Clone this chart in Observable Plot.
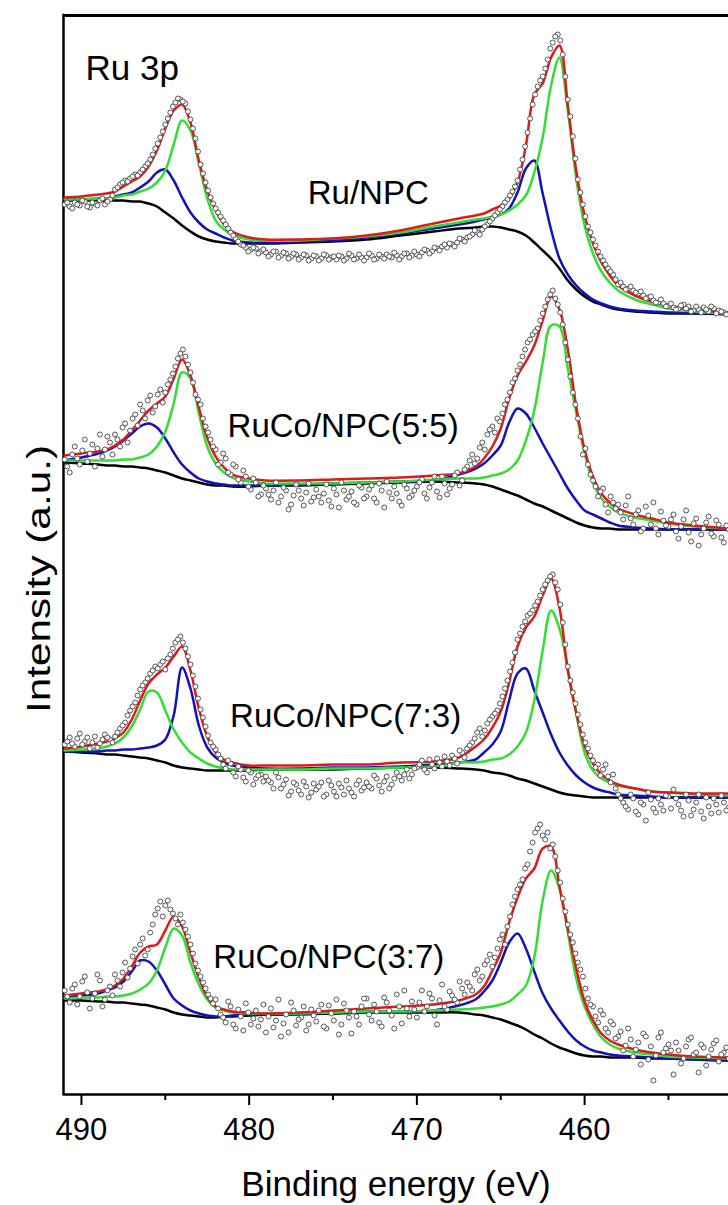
<!DOCTYPE html>
<html>
<head>
<meta charset="utf-8">
<script src="https://cdn.jsdelivr.net/npm/d3@7"></script>
<script src="https://cdn.jsdelivr.net/npm/@observablehq/plot@0.6"></script>
<style>
  html, body { margin: 0; padding: 0; background: #fff; }
  #chart svg { display: block; }
</style>
</head>
<body>
<div id="chart"></div>
<script>
// ---------- data ----------
const samples = ["Ru/NPC", "RuCo/NPC(5:5)", "RuCo/NPC(7:3)", "RuCo/NPC(3:7)"];

// binding energies (eV) at which the fitted curves were read
const fitEnergy = [491.0, 490.0, 489.0, 488.5, 488.0, 487.5, 487.0, 486.5, 486.0, 485.5,
  485.0, 484.5, 484.0, 483.5, 483.0, 482.5, 482.0, 481.5, 481.0, 480.0,
  479.0, 477.0, 475.0, 473.0, 471.0, 469.0, 467.5, 466.5, 466.0, 465.5,
  465.0, 464.5, 464.0, 463.5, 463.0, 462.5, 462.0, 461.5, 461.0, 460.5,
  460.0, 459.5, 459.0, 458.5, 458.0, 457.0, 456.0, 455.0, 453.5, 451.4];

// binding energies (eV) of the measured points (two interleaved sweeps)
const scanEnergy = [491.0, 490.7, 490.4, 490.1, 489.8, 489.5, 489.2, 488.9, 488.6, 488.3,
  488.0, 487.7, 487.4, 487.1, 486.8, 486.5, 486.2, 485.9, 485.6, 485.3,
  485.0, 484.7, 484.4, 484.1, 483.8, 483.5, 483.2, 482.9, 482.6, 482.3,
  482.0, 481.7, 481.4, 481.1, 480.8, 480.5, 480.2, 479.9, 479.6, 479.3,
  479.0, 478.7, 478.4, 478.1, 477.8, 477.5, 477.2, 476.9, 476.6, 476.3,
  476.0, 475.7, 475.4, 475.1, 474.8, 474.5, 474.2, 473.9, 473.6, 473.3,
  473.0, 472.7, 472.4, 472.1, 471.8, 471.5, 471.2, 470.9, 470.6, 470.3,
  470.0, 469.7, 469.4, 469.1, 468.8, 468.5, 468.2, 467.9, 467.6, 467.3,
  467.0, 466.7, 466.4, 466.1, 465.8, 465.5, 465.2, 464.9, 464.6, 464.3,
  464.0, 463.7, 463.4, 463.1, 462.8, 462.5, 462.2, 461.9, 461.6, 461.3,
  461.0, 460.7, 460.4, 460.1, 459.8, 459.5, 459.2, 458.9, 458.6, 458.3,
  458.0, 457.7, 457.4, 457.1, 456.8, 456.5, 456.2, 455.9, 455.6, 455.3,
  455.0, 454.7, 454.4, 454.1, 453.8, 453.5, 453.2, 452.9, 452.6, 452.3, 452.0, 451.7, 451.4];
const scanEnergyMid = [490.85, 490.55, 490.25, 489.95, 489.65, 489.35, 489.05, 488.75, 488.45, 488.15,
  487.85, 487.55, 487.25, 486.95, 486.65, 486.35, 486.05, 485.75, 485.45, 485.15,
  484.85, 484.55, 484.25, 483.95, 483.65, 483.35, 483.05, 482.75, 482.45, 482.15,
  481.85, 481.55, 481.25, 480.95, 480.65, 480.35, 480.05, 479.75, 479.45, 479.15,
  478.85, 478.55, 478.25, 477.95, 477.65, 477.35, 477.05, 476.75, 476.45, 476.15,
  475.85, 475.55, 475.25, 474.95, 474.65, 474.35, 474.05, 473.75, 473.45, 473.15,
  472.85, 472.55, 472.25, 471.95, 471.65, 471.35, 471.05, 470.75, 470.45, 470.15,
  469.85, 469.55, 469.25, 468.95, 468.65, 468.35, 468.05, 467.75, 467.45, 467.15,
  466.85, 466.55, 466.25, 465.95, 465.65, 465.35, 465.05, 464.75, 464.45, 464.15,
  463.85, 463.55, 463.25, 462.95, 462.65, 462.35, 462.05, 461.75, 461.45, 461.15,
  460.85, 460.55, 460.25, 459.95, 459.65, 459.35, 459.05, 458.75, 458.45, 458.15,
  457.85, 457.55, 457.25, 456.95, 456.65, 456.35, 456.05, 455.75, 455.45, 455.15,
  454.85, 454.55, 454.25, 453.95, 453.65, 453.35, 453.05, 452.75, 452.45, 452.15, 451.85, 451.55];

// ---- Ru/NPC (stacked intensity, a.u.) ----
const ruBackground = [894,894,894,894,894,894,893,893,891,888,882,876,869,863,858,855,853,852,851,851,851,852,853,855,859,863,866,867,868,868,867,865,863,859,852,844,836,826,814,805,798,793,790,787,785,783,782,781,781,780];
const ruBlue = [895,895,896,896,898,900,902,907,913,922,925,914,897,882,872,865,861,857,854,852,852,853,854,857,861,866,870,873,875,877,880,886,902,926,934,901,865,836,820,809,801,795,791,788,786,784,783,782,781,781];
const ruGreen = [895,895,896,896,897,899,900,903,906,912,924,950,974,964,931,896,874,865,860,855,854,854,856,858,862,868,872,875,876,878,880,884,890,899,922,957,1009,1037,984,916,869,841,823,812,804,795,790,786,783,781];
const ruEnvelope = [897,898,900,901,903,908,913,918,928,944,966,984,990,972,934,904,884,870,863,857,855,855,856,859,864,871,876,879,881,885,889,896,912,949,1000,1011,1037,1049,989,924,879,851,832,819,809,799,793,789,785,782];
const ruData = [890,888,892,889,893,887,891,894,890,895,
  905,910,914,916,920,922,928,935,946,957,
  970,982,992,995,991,975,956,930,912,897,
  886,878,870,862,856,850,847,845,846,843,
  842,840,843,839,841,838,840,837,839,836,
  838,836,839,837,835,838,836,839,836,837,
  837,839,836,838,840,837,839,838,841,839,
  840,842,844,843,846,848,847,850,852,855,
  857,860,862,865,870,876,882,888,895,903,
  914,935,962,990,1008,1018,1035,1052,1060,1040,
  995,958,915,890,868,855,843,834,826,820,
  810,808,806,804,801,799,797,794,792,791,
  789,787,786,790,788,784,785,787,783,786,784,782,781];
const ruDataMid = [892,886,890,894,888,892,889,896,893,899,
  907,912,913,918,919,925,931,940,951,963,
  976,988,996,993,983,966,943,921,904,891,
  882,874,866,859,853,849,843,847,841,845,
  838,843,837,842,836,841,835,840,834,839,
  834,840,835,838,839,834,841,835,840,834,
  841,835,840,836,838,842,835,841,837,843,
  838,845,841,847,844,850,851,848,856,853,
  858,864,860,868,873,879,885,892,899,908,
  925,948,976,1000,1014,1026,1046,1058,1054,1018,
  978,936,902,878,862,849,838,830,823,815,
  812,805,808,802,803,796,798,792,795,788,
  791,785,789,786,783,788,782,785,788,781,783,780];

// ---- RuCo/NPC(5:5) ----
const rc55Background = [632,631,630,629,629,628,628,627,626,624,622,619,616,614,612,610,609,609,608,608,609,609,610,611,612,613,612,611,610,608,605,602,599,595,591,588,584,580,576,572,569,567,566,566,565,565,565,565,565,565];
const rc55Blue = [634,637,641,644,648,654,661,668,671,667,656,642,630,622,616,613,611,610,609,609,609,610,611,612,613,614,620,626,631,639,649,672,686,681,667,651,636,621,606,594,584,580,576,572,569,567,566,565,565,565];
const rc55Green = [634,634,634,634,634,635,635,637,640,648,663,691,722,716,681,648,631,622,617,613,611,611,611,612,613,615,616,616,617,619,621,625,634,654,684,732,769,768,726,682,641,612,596,588,582,577,574,571,568,566];
const rc55Envelope = [639,641,643,645,649,655,664,674,684,691,698,716,735,719,687,657,638,627,620,616,614,614,615,616,617,619,621,628,636,648,666,696,719,733,749,774,798,785,745,688,645,618,601,592,586,580,576,572,569,566];
const rc55Data = [635,622,648,630,655,641,628,660,645,652,
  660,648,671,664,680,690,676,699,688,705,
  702,715,728,741,738,722,700,690,668,655,
  645,632,636,620,628,612,618,605,612,600,
  606,595,612,598,604,590,610,596,602,593,
  605,592,610,588,600,612,595,603,590,607,
  598,609,592,604,613,596,601,589,606,599,
  608,615,596,612,603,618,600,610,622,614,
  628,640,636,652,660,668,676,681,695,712,
  724,738,752,760,766,781,795,804,790,770,
  735,702,676,640,630,614,598,606,582,592,
  590,575,598,570,584,566,579,592,560,574,
  568,580,556,575,562,571,549,566,578,558,570,552,565];
const rc55DataMid = [628,640,636,644,633,650,646,638,658,640,
  655,667,652,676,669,684,694,682,700,692,
  710,721,736,745,730,712,695,676,662,648,
  630,641,622,630,615,624,608,616,598,609,
  600,604,592,607,585,599,604,589,611,597,
  598,601,594,606,587,604,598,592,609,596,
  605,596,611,587,602,608,593,610,597,604,
  612,601,607,618,597,611,606,619,609,625,
  634,631,647,645,665,662,673,690,702,716,
  730,745,755,763,774,788,800,796,782,752,
  718,690,658,646,620,608,603,590,598,586,
  582,589,576,580,563,588,570,566,583,569,
  575,563,568,584,553,576,560,572,561,574,557,569];

// ---- RuCo/NPC(7:3) ----
const rc73Background = [343,342,341,340,340,339,338,337,336,334,332,329,327,326,325,324,324,324,324,324,325,325,325,326,327,327,326,325,324,322,321,319,316,314,311,308,305,302,300,299,298,297,297,297,297,297,297,297,297,297];
const rc73Blue = [343,343,343,344,344,345,345,346,347,349,355,379,427,406,369,347,337,332,329,327,326,326,327,327,328,330,332,335,342,350,363,394,421,426,404,382,360,342,329,319,312,307,304,302,300,299,298,297,297,297];
const rc73Green = [344,345,346,348,351,357,368,385,403,402,384,365,352,342,336,331,328,326,325,325,325,325,326,326,327,328,332,332,333,335,336,340,348,362,394,444,484,466,426,381,342,324,316,312,309,306,303,302,300,299];
const rc73Envelope = [346,348,351,353,356,362,375,394,411,420,427,438,448,424,386,358,342,335,332,329,329,329,330,330,332,333,337,348,355,367,383,412,448,467,478,499,516,487,424,382,349,331,320,314,310,306,303,302,301,301];
const rc73Data = [350,357,348,361,353,346,358,351,360,355,
  358,366,372,384,392,405,412,421,428,430,
  425,440,452,458,446,430,408,385,368,352,
  345,336,326,331,318,325,313,322,316,320,
  318,312,322,306,315,303,310,300,308,302,
  305,312,300,309,298,307,314,302,310,304,
  312,306,316,303,318,310,322,314,325,320,
  327,334,322,330,336,328,333,339,331,342,
  346,352,362,358,371,378,384,398,414,432,
  455,468,479,484,493,505,514,520,505,472,
  428,402,380,360,346,334,330,325,318,320,
  300,292,285,296,280,290,302,286,296,284,
  298,305,290,278,294,285,300,276,288,296,282,292,287];
const rc73DataMid = [353,351,356,350,357,352,347,355,357,352,
  362,369,379,388,399,409,416,424,426,433,
  436,446,455,452,438,419,396,377,359,348,
  340,330,334,322,328,317,324,310,319,313,
  314,306,317,310,299,312,304,313,297,311,
  308,298,314,303,311,300,306,298,314,307,
  308,319,309,313,306,316,318,320,316,326,
  330,325,335,326,332,338,329,336,344,337,
  349,356,366,364,375,381,391,406,423,442,
  461,473,481,489,499,510,518,512,490,450,
  414,391,370,352,339,327,319,330,312,306,
  296,288,300,283,292,274,295,282,290,299,
  286,296,284,300,279,292,283,297,281,290,299,284];

// ---- RuCo/NPC(3:7) ----
const rc37Background = [94,94,93,93,92,92,91,90,89,87,85,82,80,79,78,77,77,78,78,79,80,80,81,82,82,82,82,80,79,77,75,72,69,65,60,56,51,47,44,41,39,38,38,37,37,37,36,36,35,34];
const rc37Blue = [97,99,101,104,107,113,123,134,133,124,110,96,89,84,81,79,78,78,79,80,80,81,82,83,83,84,89,95,103,114,132,152,161,146,123,101,86,74,63,54,48,44,42,40,39,38,37,36,35,34];
const rc37Green = [96,97,97,98,98,99,101,105,111,124,147,166,159,132,110,95,87,84,82,81,81,81,82,83,83,84,85,86,87,88,90,93,100,109,137,194,224,206,162,116,88,70,57,50,46,42,40,38,37,36];
const rc37Envelope = [99,101,103,105,109,116,128,142,148,150,164,178,168,142,117,98,88,85,83,82,81,82,84,86,88,90,94,100,108,124,142,172,197,216,226,246,248,208,166,126,93,74,61,54,50,45,42,40,38,37];
const rc37Data = [104,92,110,98,118,86,101,114,95,108,
  120,108,132,126,145,150,139,162,180,193,
  189,185,176,180,165,150,131,118,106,96,
  95,80,72,88,66,78,91,70,84,75,
  62,86,74,58,80,92,69,77,64,85,
  73,90,66,81,95,70,84,61,78,88,
  96,74,83,68,92,79,100,71,86,93,
  77,104,88,96,70,110,85,99,92,106,
  112,104,125,118,134,128,146,160,168,190,
  205,215,230,252,266,259,262,250,224,196,
  170,152,132,118,96,88,72,80,62,70,
  58,44,66,38,52,61,35,14,57,42,
  50,20,44,36,55,40,22,47,38,51,33,42,36];
const rc37DataMid = [98,106,90,113,102,96,120,88,104,99,
  114,122,117,138,131,156,145,170,186,178,
  194,181,170,172,158,141,124,112,100,91,
  86,77,93,70,85,64,82,76,68,90,
  78,67,95,71,62,84,75,88,70,79,
  84,68,89,74,60,91,77,83,70,96,
  80,90,72,97,84,66,88,104,78,85,
  92,83,101,79,94,88,103,95,113,100,
  108,120,114,130,140,137,155,150,178,198,
  210,226,243,262,270,255,246,238,212,183,
  160,141,125,106,90,78,84,66,73,56,
  63,49,55,45,30,58,48,39,62,46,
  44,52,31,48,57,42,50,29,45,54,40,47];

// axis ticks
const majorTicks = [490, 480, 470, 460];
const minorTicks = [485, 475, 465, 455];

// annotations: label text, binding energy, intensity
const sampleLabelEnergy = [472.9, 474.4, 474.25, 475.25];
const sampleLabelIntensity = [901, 668, 378, 137];
const panelLabel = ["Ru 3p"];
const panelLabelEnergy = [489.76];
const panelLabelIntensity = [1026];

// ---------- assemble tables for Plot ----------
const spectra = [
  {sample: samples[0], bg: ruBackground, blue: ruBlue, green: ruGreen, env: ruEnvelope, data: ruData, dataMid: ruDataMid},
  {sample: samples[1], bg: rc55Background, blue: rc55Blue, green: rc55Green, env: rc55Envelope, data: rc55Data, dataMid: rc55DataMid},
  {sample: samples[2], bg: rc73Background, blue: rc73Blue, green: rc73Green, env: rc73Envelope, data: rc73Data, dataMid: rc73DataMid},
  {sample: samples[3], bg: rc37Background, blue: rc37Blue, green: rc37Green, env: rc37Envelope, data: rc37Data, dataMid: rc37DataMid}
];
const curveRows = key => spectra.flatMap(s => fitEnergy.map((e, i) => ({eV: e, I: s[key][i], sample: s.sample})));
const pointRows = spectra.flatMap(s => [
  ...scanEnergy.map((e, i) => ({eV: e, I: s.data[i], sample: s.sample})),
  ...scanEnergyMid.map((e, i) => ({eV: e, I: s.dataMid[i], sample: s.sample}))
]);
const labelRows = samples.map((t, i) => ({text: t, eV: sampleLabelEnergy[i], I: sampleLabelIntensity[i]}));
const panelRows = panelLabel.map((t, i) => ({text: t, eV: panelLabelEnergy[i], I: panelLabelIntensity[i]}));

const xDomain = [491.07, 451.42];
const yDomain = [0, 1079];
const lineOpts = {x: "eV", y: "I", z: "sample", strokeWidth: 2.5, curve: "catmull-rom"};

const chart = Plot.plot({
  width: 728,
  height: 1205,
  marginTop: 15,
  marginLeft: 63,
  marginRight: 0,
  marginBottom: 111,
  style: {fontFamily: "Arial, 'Liberation Sans', Helvetica, sans-serif", fontSize: "31px", background: "#fff", color: "#000"},
  x: {domain: xDomain, label: null},
  y: {domain: yDomain, axis: null},
  marks: [
    Plot.axisX({ticks: majorTicks, tickSize: 11, tickPadding: 12, strokeWidth: 2, fontSize: 31, label: null, tickFormat: d => String(d)}),
    Plot.axisX({ticks: minorTicks, tickSize: 6, strokeWidth: 2, label: null, tickFormat: () => ""}),
    Plot.ruleY([yDomain[1]], {stroke: "#000", strokeWidth: 3}),
    Plot.ruleY([yDomain[0]], {stroke: "#000", strokeWidth: 2.5}),
    Plot.ruleX([xDomain[0]], {stroke: "#000", strokeWidth: 2.5, strokeLinecap: "square"}),
    Plot.line(curveRows("bg"), {...lineOpts, stroke: "#000"}),
    Plot.line(curveRows("blue"), {...lineOpts, stroke: "#1212b8"}),
    Plot.line(curveRows("green"), {...lineOpts, stroke: "#33dd33"}),
    Plot.line(curveRows("env"), {...lineOpts, stroke: "#e01a1a"}),
    Plot.dot(pointRows, {x: "eV", y: "I", r: 2.5, fill: "#fff", stroke: "#404040", strokeWidth: 0.9}),
    Plot.text(labelRows, {x: "eV", y: "I", text: "text", fontSize: 33, fill: "#000"}),
    Plot.text(panelRows, {x: "eV", y: "I", text: "text", textAnchor: "start", fontSize: 35, fill: "#000"}),
    Plot.text(["Binding energy (eV)"], {text: d => d, frameAnchor: "bottom", lineAnchor: "bottom", dy: 101, fontSize: 35, fill: "#000"}),
    Plot.text(["Intensity (a.u.)"], {text: d => d, frameAnchor: "left", rotate: -90, textAnchor: "start", dx: -24, dy: 158, fontSize: 34, fill: "#000"})
  ]
});
document.getElementById("chart").append(chart);

// the y-axis title of the reference is drawn a little longer than plain text
for (const t of chart.querySelectorAll("text")) {
  if (t.textContent === "Intensity (a.u.)") {
    t.setAttribute("textLength", "268");
    t.setAttribute("lengthAdjust", "spacingAndGlyphs");
  }
}
</script>
</body>
</html>
